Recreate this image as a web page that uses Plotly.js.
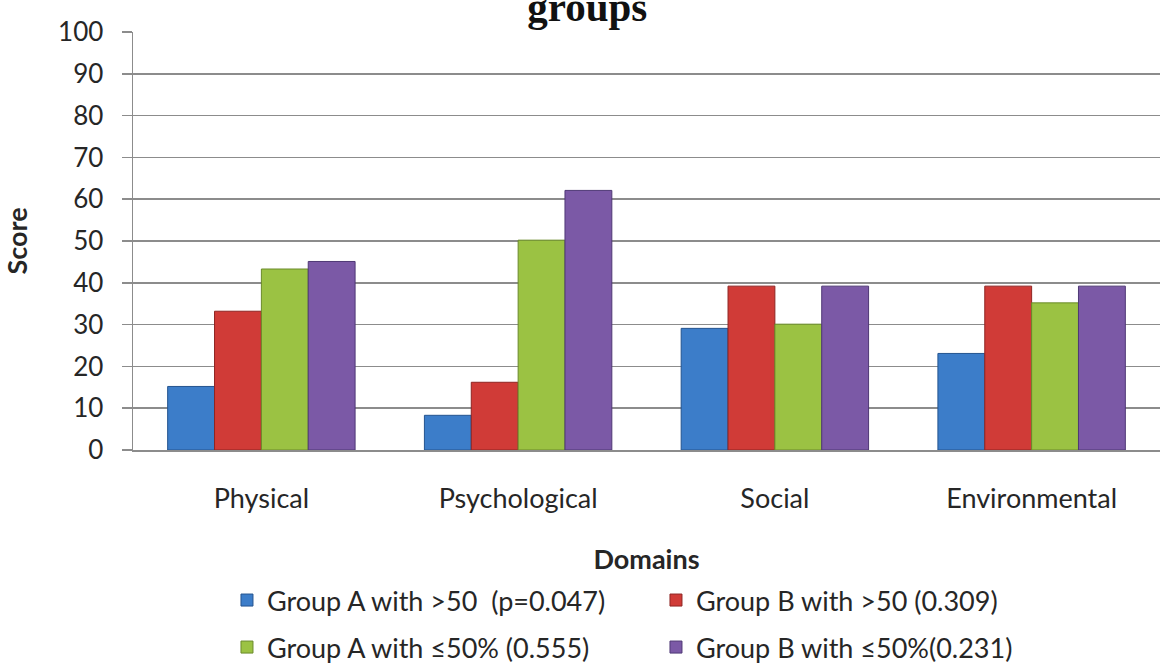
<!DOCTYPE html>
<html>
<head>
<meta charset="utf-8">
<script src="https://cdn.plot.ly/plotly-3.0.1.min.js"></script>
<style>html,body{margin:0;padding:0;background:#fff;}#chart{width:1163px;height:671px;}</style>
</head>
<body>
<div id="chart"></div>
<script>
const domains = ["Physical", "Psychological", "Social", "Environmental"];
const groupAOver50 = [15.2, 8.3, 29.1, 23.1];
const groupBOver50 = [33.2, 16.2, 39.2, 39.2];
const groupAUnder50 = [43.3, 50.2, 30.1, 35.2];
const groupBUnder50 = [45.1, 62.1, 39.2, 39.2];
const seriesNames = [
  "Group A with >50\u00a0 (p=0.047)",
  "Group B with >50 (0.309)",
  "Group A with \u226450% (0.555)",
  "Group B with \u226450%(0.231)"
];
const yTicks = [0, 10, 20, 30, 40, 50, 60, 70, 80, 90, 100];

const fills = ["#3c7dc9", "#d03b37", "#9bc243", "#7b59a6"];
const edges = ["#24548f", "#8f2523", "#6a8a2a", "#4f3875"];
const values = [groupAOver50, groupBOver50, groupAUnder50, groupBUnder50];
const legendIds = ["legend", "legend", "legend2", "legend2"];

const traces = values.map((v, i) => ({
  type: "bar",
  x: domains,
  y: v,
  name: seriesNames[i],
  legend: legendIds[i],
  marker: {color: fills[i], line: {color: edges[i], width: 1}},
  hoverinfo: "x+y+name"
}));

const fam = "Lato, 'Open Sans', sans-serif";
const font = {family: fam, size: 27, color: "#262626"};
const tickFontY = {family: fam, size: 26, color: "#262626"};

const layout = {
  width: 1163, height: 671,
  margin: {l: 133, r: 3, t: 32, b: 221, autoexpand: false},
  paper_bgcolor: "#ffffff",
  plot_bgcolor: "#ffffff",
  font: font,
  title: {
    text: "<b>groups</b>",
    font: {family: "'Liberation Serif', 'Times New Roman', serif", size: 41, color: "#111"},
    x: 0.505, xref: "container", xanchor: "center",
    y: 0.968, yref: "container", yanchor: "bottom"
  },
  barmode: "group",
  bargap: 0.27,
  bargroupgap: 0,
  showlegend: true,
  xaxis: {
    type: "category",
    showline: true, linecolor: "#8c8c8c", linewidth: 2,
    showgrid: false, ticks: "", ticklabelstandoff: 24,
    tickfont: font,
    title: {text: "<b>Domains</b>", font: font, standoff: 37},
    automargin: false
  },
  yaxis: {
    range: [0, 100],
    tickvals: yTicks,
    showline: true, linecolor: "#8c8c8c", linewidth: 1.5,
    showgrid: true, gridcolor: "#8c8c8c", gridwidth: 1.5,
    ticks: "outside", ticklen: 10, tickcolor: "#8c8c8c", tickwidth: 1.5,
    ticklabelstandoff: 13,
    tickfont: tickFontY,
    zeroline: false,
    title: {text: "<b>Score</b>", font: font, standoff: 22},
    automargin: false
  },
  legend: {
    orientation: "h", x: 0.0915, xanchor: "left", y: -0.3014, yanchor: "top",
    xref: "paper", yref: "paper",
    entrywidth: 384, entrywidthmode: "pixels",
    font: font, traceorder: "normal", bgcolor: "rgba(0,0,0,0)"
  },
  legend2: {
    orientation: "h", x: 0.0915, xanchor: "left", y: -0.4139, yanchor: "top",
    xref: "paper", yref: "paper",
    entrywidth: 384, entrywidthmode: "pixels",
    font: font, traceorder: "normal", bgcolor: "rgba(0,0,0,0)"
  }
};

Plotly.newPlot("chart", traces, layout, {displayModeBar: false, staticPlot: true});
</script>
</body>
</html>
